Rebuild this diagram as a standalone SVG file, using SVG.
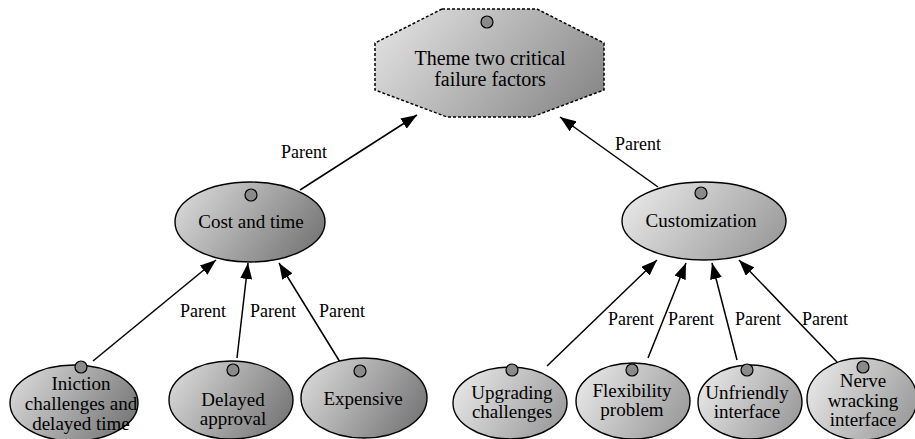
<svg xmlns="http://www.w3.org/2000/svg" width="915" height="439" viewBox="0 0 915 439">
<defs>
<linearGradient id="gDark" x1="0" y1="0.3" x2="1" y2="0.7">
<stop offset="0" stop-color="#d6d6d6"/><stop offset="1" stop-color="#767676"/>
</linearGradient>
<linearGradient id="gLight" x1="0" y1="0.3" x2="1" y2="0.7">
<stop offset="0" stop-color="#e6e6e6"/><stop offset="1" stop-color="#9a9a9a"/>
</linearGradient>
<linearGradient id="gOct" x1="0" y1="0.3" x2="1" y2="0.7">
<stop offset="0" stop-color="#dedede"/><stop offset="1" stop-color="#8a8a8a"/>
</linearGradient>
<marker id="arr" viewBox="0 0 16 12" refX="16" refY="6" markerWidth="16" markerHeight="12" markerUnits="userSpaceOnUse" orient="auto">
<path d="M0,0 L16,6 L0,12 z" fill="#000"/>
</marker>
<style>
.dark{fill:url(#gDark);stroke:#000;stroke-width:1.4}
.light{fill:url(#gLight);stroke:#000;stroke-width:1.4}
.dot{fill:#8a8a8a;stroke:#000;stroke-width:1.2}
text{font-family:'Liberation Serif','Tinos','DejaVu Serif','Times New Roman',serif;fill:#000}
.t{font-size:19px;text-anchor:middle}
.big{font-size:20px}
.lbl{font-size:18px}
.c{stroke:#000;stroke-width:1.5;fill:none;marker-end:url(#arr)}
</style>
</defs>
<g id="connectors">
<line class="c" x1="300" y1="190" x2="417" y2="115"/>
<line class="c" x1="658" y1="187" x2="560" y2="117"/>
<line class="c" x1="93" y1="361" x2="216" y2="260"/>
<line class="c" x1="237" y1="358" x2="248" y2="263"/>
<line class="c" x1="340" y1="362" x2="279" y2="263"/>
<line class="c" x1="547" y1="366" x2="657" y2="260"/>
<line class="c" x1="648" y1="358" x2="686" y2="263"/>
<line class="c" x1="737" y1="360" x2="712" y2="263"/>
<line class="c" x1="837" y1="362" x2="739" y2="260"/>
<text class="lbl" x="281" y="158">Parent</text>
<text class="lbl" x="615" y="150">Parent</text>
<text class="lbl" x="180" y="317">Parent</text>
<text class="lbl" x="250" y="317">Parent</text>
<text class="lbl" x="319" y="317">Parent</text>
<text class="lbl" x="608" y="325">Parent</text>
<text class="lbl" x="668" y="325">Parent</text>
<text class="lbl" x="735" y="325">Parent</text>
<text class="lbl" x="802" y="325">Parent</text>
</g>
<g id="theme">
<polygon points="442,9 537,9 604,43 604,90 532,117 447,117 375,90 375,43" fill="url(#gOct)" stroke="#000" stroke-width="1.5" stroke-dasharray="3,2"/>
<circle class="dot" cx="487" cy="22" r="6"/>
<text class="t big" x="490" y="65">Theme two critical</text>
<text class="t big" x="490" y="86">failure factors</text>
</g>
<g id="cost">
<ellipse class="dark" cx="250" cy="222" rx="75" ry="40"/>
<circle class="dot" cx="251" cy="195" r="6"/>
<text class="t" x="251" y="228">Cost and time</text>
</g>
<g id="custom">
<ellipse class="light" cx="704" cy="221" rx="82" ry="39"/>
<circle class="dot" cx="701" cy="193" r="6"/>
<text class="t" x="701" y="227">Customization</text>
</g>
<g id="iniction">
<ellipse class="dark" cx="74" cy="403" rx="64" ry="38"/>
<circle class="dot" cx="81" cy="367" r="6"/>
<text class="t" x="81" y="390">Iniction</text>
<text class="t" x="81" y="410">challenges and</text>
<text class="t" x="81" y="430">delayed time</text>
</g>
<g id="delayed">
<ellipse class="dark" cx="231" cy="400" rx="62" ry="39"/>
<circle class="dot" cx="233" cy="370" r="6"/>
<text class="t" x="233" y="406">Delayed</text>
<text class="t" x="233" y="425">approval</text>
</g>
<g id="expensive">
<ellipse class="dark" cx="364" cy="398" rx="63" ry="40"/>
<circle class="dot" cx="360" cy="371" r="6"/>
<text class="t" x="363" y="405">Expensive</text>
</g>
<g id="upgrading">
<ellipse class="light" cx="510" cy="403" rx="57" ry="36"/>
<circle class="dot" cx="512" cy="370" r="6"/>
<text class="t" x="512" y="399">Upgrading</text>
<text class="t" x="512" y="418">challenges</text>
</g>
<g id="flexibility">
<ellipse class="light" cx="633" cy="401" rx="57" ry="38"/>
<circle class="dot" cx="632" cy="370" r="6"/>
<text class="t" x="632" y="397">Flexibility</text>
<text class="t" x="632" y="416">problem</text>
</g>
<g id="unfriendly">
<ellipse class="light" cx="750" cy="402" rx="52" ry="37"/>
<circle class="dot" cx="747" cy="370" r="6"/>
<text class="t" x="747" y="399">Unfriendly</text>
<text class="t" x="747" y="418">interface</text>
</g>
<g id="nerve">
<ellipse class="light" cx="862" cy="399" rx="55" ry="41"/>
<circle class="dot" cx="863" cy="367" r="6"/>
<text class="t" x="863" y="387">Nerve</text>
<text class="t" x="863" y="407">wracking</text>
<text class="t" x="863" y="426">interface</text>
</g>
</svg>
